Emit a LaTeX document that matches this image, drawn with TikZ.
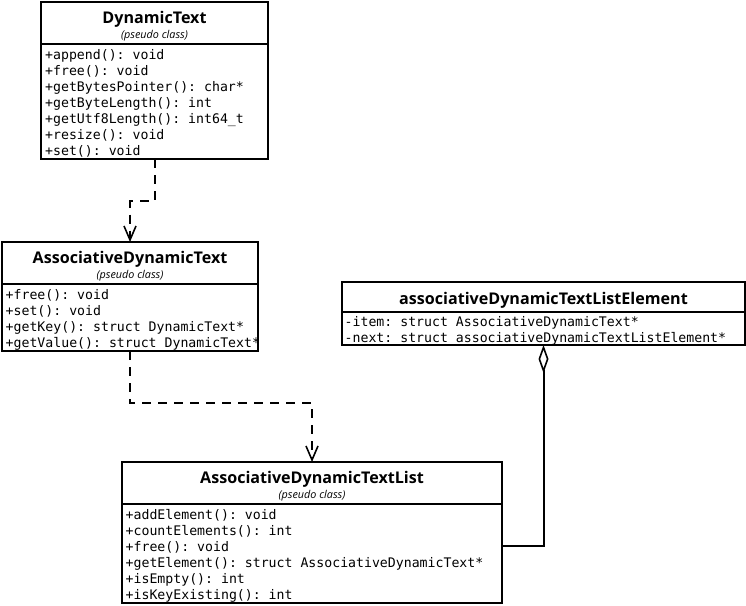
\documentclass[tikz,border=0pt]{standalone}
\usepackage{fontspec}
\setmonofont{DejaVu Sans Mono}
\newfontfamily\titlefont{Open Sans}
\usetikzlibrary{arrows.meta}
\begin{document}
\begin{tikzpicture}[x=1pt,y=-1pt,
  classbox/.style={draw, line width=2pt, inner sep=0pt, outer sep=0pt, fill=white},
  titletext/.style={anchor=base, inner sep=0pt, font=\titlefont\bfseries\fontsize{16.1}{18}\selectfont},
  pseudotext/.style={anchor=base, inner sep=0pt, font=\titlefont\itshape\fontsize{10.8}{12}\selectfont},
  membertext/.style={anchor=base west, inner sep=0pt, font=\ttfamily\fontsize{13.2}{16}\selectfont},
  sepline/.style={line width=2pt},
  dep/.style={line width=2pt, dash pattern=on 9pt off 7pt, -{Straight Barb[length=14pt,width=12pt,line width=1.6pt]}},
  aggr/.style={line width=2pt, -{Diamond[open,length=28pt,width=10pt,line width=1.6pt]}}
]
\useasboundingbox (0,0) rectangle (746,605);

% DynamicText
\node[classbox, minimum width=227pt, minimum height=157pt] (dt) at (154.5,80.5) {};
\draw[sepline] (dt.west |- 0,44) -- (dt.east |- 0,44);
\node[titletext] (dtt) at (154.5,23) {DynamicText};
\node[pseudotext] (dtp) at (154.5,38.5) {(pseudo class)};
\foreach \t [count=\i from 0] in {+append(): void,+free(): void,+getBytesPointer(): char*,+getByteLength(): int,+getUtf8Length(): int64\_t,+resize(): void,+set(): void}
  \node[membertext] (dtm\i) at (45,59+16*\i) {\t};

% AssociativeDynamicText
\node[classbox, minimum width=256pt, minimum height=109pt] (adt) at (130,296.5) {};
\draw[sepline] (adt.west |- 0,284) -- (adt.east |- 0,284);
\node[titletext] (adtt) at (130,263) {AssociativeDynamicText};
\node[pseudotext] (adtp) at (130,278.5) {(pseudo class)};
\foreach \t [count=\i from 0] in {+free(): void,+set(): void,+getKey(): struct DynamicText*,+getValue(): struct DynamicText*}
  \node[membertext] (adtm\i) at (5.5,299+16*\i) {\t};

% associativeDynamicTextListElement
\node[classbox, minimum width=403pt, minimum height=63pt] (el) at (543.5,313.5) {};
\draw[sepline] (el.west |- 0,312) -- (el.east |- 0,312);
\node[titletext] (elt) at (543.5,304) {associativeDynamicTextListElement};
\node[membertext] (elm0) at (344.5,326) {-item: struct AssociativeDynamicText*};
\node[membertext] (elm1) at (344.5,342) {-next: struct associativeDynamicTextListElement*};

% AssociativeDynamicTextList
\node[classbox, minimum width=380pt, minimum height=141pt] (adtl) at (312,532.5) {};
\draw[sepline] (adtl.west |- 0,504) -- (adtl.east |- 0,504);
\node[titletext] (adtlt) at (312,483) {AssociativeDynamicTextList};
\node[pseudotext] (adtlp) at (312,498.5) {(pseudo class)};
\foreach \t [count=\i from 0] in {+addElement(): void,+countElements(): int,+free(): void,+getElement(): struct AssociativeDynamicText*,+isEmpty(): int,+isKeyExisting(): int}
  \node[membertext] (adtlm\i) at (125.5,519+16*\i) {\t};

% connectors
\draw[dep] (dt.south) -- ++(0,42) -| (adt.north);
\draw[dep] (adt.south) -- ++(0,52) -| (adtl.north);
\draw[aggr] ([yshift=-13.5pt]adtl.east) -| (el.south);
\end{tikzpicture}
\end{document}
